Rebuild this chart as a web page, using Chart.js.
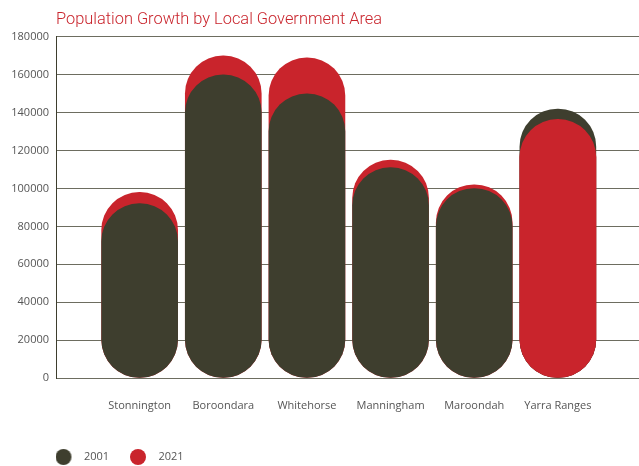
<!DOCTYPE html>
<html>
<head>
<meta charset="utf-8">
<title>Population Growth by Local Government Area</title>
<script src="https://cdn.jsdelivr.net/npm/chart.js@4/dist/chart.umd.min.js"></script>
<style>
  html, body { margin: 0; padding: 0; background: #fff; }
  .chartBox { width: 639px; height: 466px; }
</style>
</head>
<body>
<div class="chartBox">
  <canvas id="popChart"></canvas>
</div>
<script>
var categories = ["Stonnington", "Boroondara", "Whitehorse", "Manningham", "Maroondah", "Yarra Ranges"]
var pop2001 = [92000, 160000, 150000, 111000, 100000, 142000]
var pop2021 = [98000, 170000, 169000, 115000, 102000, 136500]
var yTicks = [0, 20000, 40000, 60000, 80000, 100000, 120000, 140000, 160000, 180000]

var dark = "#3e3e2e"
var red = "#c9242c"
var font = "'Open Sans', 'Noto Sans', sans-serif"

function points(values) {
  return values.map(function (v, i) { return { x: i, y: v } })
}

// legend dot with some empty room on its right, so the label sits a bit further away
function dot(color) {
  var c = document.createElement("canvas")
  c.width = 23
  c.height = 16
  var g = c.getContext("2d")
  g.fillStyle = color
  g.beginPath()
  g.arc(8, 8, 8, 0, Math.PI * 2)
  g.fill()
  return c
}

// whichever bar is shorter sits in front (Yarra Ranges has the red one on top)
var shorterInFront = {
  id: "shorterInFront",
  afterDatasetsDraw: function (chart) {
    var meta = chart.getDatasetMeta(1)
    meta.data.forEach(function (bar, i) {
      if (pop2021[i] < pop2001[i]) bar.draw(chart.ctx)
    })
  }
}

var leftPad = 34.7

new Chart(document.getElementById("popChart"), {
  type: "bar",
  plugins: [shorterInFront],
  data: {
    datasets: [
      {
        label: "2001",
        data: points(pop2001),
        backgroundColor: dark,
        borderWidth: 0,
        pointStyle: dot(dark),
      },
      {
        label: "2021",
        data: points(pop2021),
        backgroundColor: red,
        borderWidth: 0,
        pointStyle: dot(red),
      },
    ],
  },
  options: {
    responsive: true,
    maintainAspectRatio: false,
    animation: false,
    layout: {
      padding: { top: 0, left: leftPad, right: 0, bottom: -6.5 },
    },
    datasets: {
      bar: {
        grouped: false,
        barThickness: 76,
        borderRadius: 40,
        borderSkipped: false,
      },
    },
    scales: {
      x: {
        type: "linear",
        offset: false,
        min: -1,
        max: 5.97,
        grid: { display: false },
        border: { display: false },
        afterFit: function (scale) { scale.height = 52.7 },
        afterBuildTicks: function (scale) {
          scale.ticks = categories.map(function (c, i) { return { value: i } })
        },
        ticks: {
          autoSkip: false,
          maxRotation: 0,
          padding: 13,
          color: "#555",
          font: { family: font, size: 11 },
          callback: function (v) { return categories[v] },
        },
      },
      y: {
        min: 0,
        max: 180000,
        afterFit: function (scale) {
          // narrow box so the legend can start further right; let labels spill left
          scale.width = 56 - leftPad
          scale._computeLabelArea = function () {}
        },
        afterBuildTicks: function (scale) {
          scale.ticks = yTicks.map(function (v) { return { value: v } })
        },
        grid: { color: "#6d6d60", lineWidth: 1, drawTicks: false },
        border: { color: dark, width: 1 },
        ticks: {
          padding: 7,
          color: "#555",
          font: { family: font, size: 11 },
          callback: function (v) { return String(v) },
        },
      },
    },
    plugins: {
      title: {
        display: true,
        text: "Population Growth by Local Government Area",
        align: "start",
        fullSize: false,
        color: red,
        font: { family: "Roboto, 'Open Sans', sans-serif", size: 16.4, weight: 300 },
        padding: { top: 10.5, bottom: 6.8 },
      },
      legend: {
        position: "bottom",
        align: "start",
        labels: {
          usePointStyle: true,
          pointStyleWidth: 23,
          boxHeight: 11,
          padding: 20.8,
          color: "#555",
          font: { family: font, size: 11 },
        },
      },
      tooltip: { enabled: false },
    },
  },
})
</script>
</body>
</html>
